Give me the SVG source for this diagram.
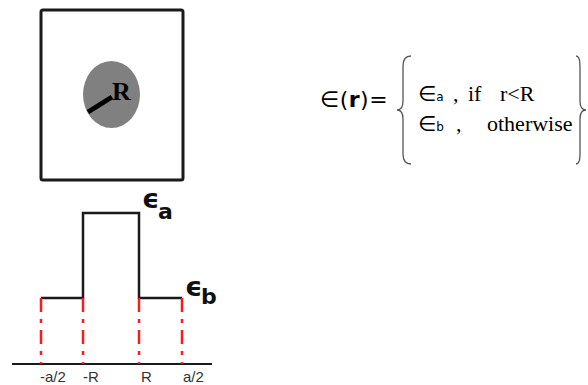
<svg xmlns="http://www.w3.org/2000/svg" width="588" height="385" viewBox="0 0 588 385">
<style>
.blk{fill:none;stroke:#1a1a1a;stroke-width:2.5}
.red{fill:none;stroke:#ff1a1a;stroke-width:2.5;stroke-dasharray:14 7 4 7}
.brace{fill:none;stroke:#555;stroke-width:1.3}
.sans{font-family:"DejaVu Sans",sans-serif;fill:#000}
.serif{font-family:"Liberation Serif",serif;fill:#000;font-size:22px}
.lbl{font-family:"Liberation Sans",sans-serif;font-size:15px;fill:#333}
.eps{font-family:"DejaVu Sans",sans-serif;font-weight:bold;fill:#111}
</style>
<g id="cell">
<rect x="41" y="10" width="142" height="170" rx="2" fill="#fff" stroke="#1a1a1a" stroke-width="3"/>
<ellipse cx="111.5" cy="94.5" rx="28.5" ry="33.5" fill="#808080"/>
<line x1="88" y1="112" x2="112" y2="97" stroke="#000" stroke-width="5"/>
<text x="112" y="100" font-family="Liberation Serif,serif" font-size="26" font-weight="bold" fill="#000">R</text>
</g>
<g id="profile">
<path class="blk" d="M41 298 H83 V213 H139 V298 H182"/>
<line x1="12" y1="364" x2="212" y2="364" stroke="#1a1a1a" stroke-width="2"/>
<line class="red" x1="41" y1="298" x2="41" y2="364"/>
<line class="red" x1="83" y1="298" x2="83" y2="364"/>
<line class="red" x1="139" y1="298" x2="139" y2="364"/>
<line class="red" x1="182" y1="298" x2="182" y2="364"/>
<text class="eps" x="142" y="208" font-size="27">ϵ</text>
<text class="eps" x="158" y="219" font-size="22">a</text>
<text class="eps" x="185" y="296" font-size="27">ϵ</text>
<text class="eps" x="201" y="304" font-size="22">b</text>
<text class="lbl" x="40" y="382">-a/2</text>
<text class="lbl" x="83" y="382">-R</text>
<text class="lbl" x="141" y="382">R</text>
<text class="lbl" x="183" y="382">a/2</text>
</g>
<g id="equation">
<text x="320" y="107" class="sans" font-size="22" letter-spacing="0.5">∈(<tspan font-weight="bold">r</tspan>)=</text>
<path class="brace" d="M411 56 Q403 56 403 66 L403 101 Q403 110 397 110 Q403 110 403 119 L403 154 Q403 164 411 164"/>
<path class="brace" d="M576 56 Q580 56 580 66 L580 101 Q580 110 586 110 Q580 110 580 119 L580 154 Q580 164 576 164"/>
<text x="418" y="101" class="sans" font-size="21">∈<tspan font-size="12">a</tspan></text>
<text x="453" y="101" class="serif">,</text>
<text x="468" y="101" class="serif">if</text>
<text x="500" y="101" class="serif">r&lt;R</text>
<text x="418" y="131" class="sans" font-size="21">∈<tspan font-size="12">b</tspan></text>
<text x="456" y="131" class="serif">,</text>
<text x="487" y="131" class="serif">otherwise</text>
</g>
</svg>
